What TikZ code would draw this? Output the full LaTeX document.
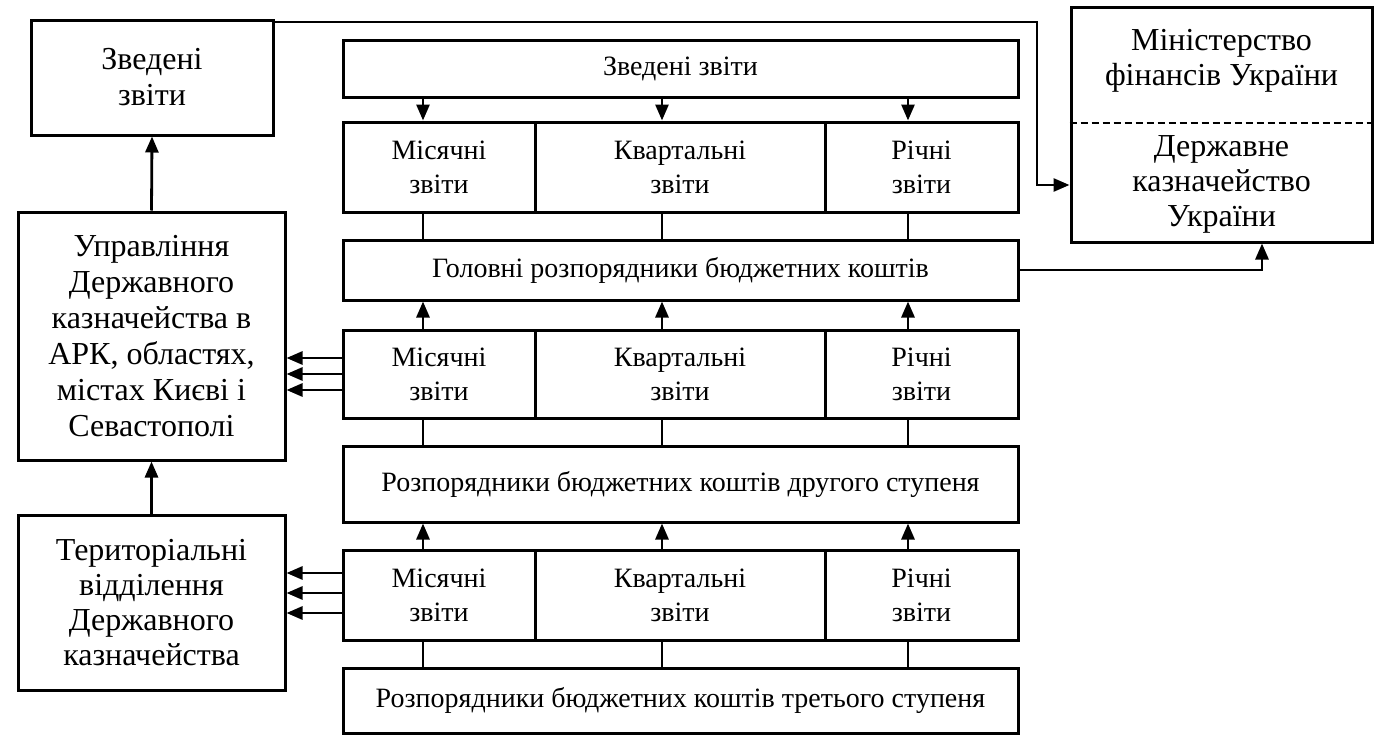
\documentclass[tikz,border=0pt]{standalone}
\usepackage{fontspec}
\setmainfont{Liberation Serif}
\usetikzlibrary{arrows.meta}
\tikzset{
  box/.style={draw, line width=3pt, inner sep=0pt, align=center,
    font=\fontsize{28}{34}\selectfont},
  bigtext/.style={font=\fontsize{32}{36}\selectfont},
  conn/.style={line width=2.8pt},
  arr/.style={line width=2.8pt, -{Triangle[length=16pt,width=13pt]}},
}
\begin{document}
\begin{tikzpicture}[x=1pt,y=-1pt]
\useasboundingbox (0,0) rectangle (1387,744);
% left column
\node[box, bigtext, minimum width=242pt, minimum height=115pt] (A) at (152,77.5) {Зведені\\звіти};
\node[box, bigtext, minimum width=267pt, minimum height=248pt] (B) at (151.5,336) {Управління\\Державного\\казначейства в\\АРК, областях,\\містах Києві і\\Севастополі};
\node[box, font=\fontsize{32}{35}\selectfont, minimum width=267pt, minimum height=175pt] (C) at (151.5,602.5) {Територіальні\\відділення\\Державного\\казначейства};
% right box
\node[box, minimum width=301pt, minimum height=235pt] (R) at (1221.5,124.5) {};
\node[align=center, font=\fontsize{32}{35}\selectfont] (Rt) at (1221.5,61) {Міністерство\\фінансів України};
\node[align=center, font=\fontsize{32}{35}\selectfont] (Rb) at (1221.5,184) {Державне\\казначейство\\України};
\coordinate (dl) at (0,123);
\draw[line width=2pt, dash pattern=on 7pt off 4pt] (R.west |- dl) -- (R.east |- dl);
% central column
\node[box, minimum width=675pt, minimum height=57pt] (r1) at (680.5,68.5) {Зведені звіти};
\node[box, minimum width=192pt, minimum height=90pt] (m2) at (439,167) {Місячні\\звіти};
\node[box, minimum width=290pt, minimum height=90pt] (q2) at (680,167) {Квартальні\\звіти};
\node[box, minimum width=193pt, minimum height=90pt] (a2) at (921.5,167) {Річні\\звіти};
\node[box, minimum width=675pt, minimum height=60pt] (r3) at (680.5,270) {Головні розпорядники бюджетних коштів};
\node[box, minimum width=192pt, minimum height=88pt] (m4) at (439,374) {Місячні\\звіти};
\node[box, minimum width=290pt, minimum height=88pt] (q4) at (680,374) {Квартальні\\звіти};
\node[box, minimum width=193pt, minimum height=88pt] (a4) at (921.5,374) {Річні\\звіти};
\node[box, minimum width=675pt, minimum height=76pt] (r5) at (680.5,484) {Розпорядники бюджетних коштів другого ступеня};
\node[box, minimum width=192pt, minimum height=90pt] (m6) at (439,595) {Місячні\\звіти};
\node[box, minimum width=290pt, minimum height=90pt] (q6) at (680,595) {Квартальні\\звіти};
\node[box, minimum width=193pt, minimum height=90pt] (a6) at (921.5,595) {Річні\\звіти};
\node[box, minimum width=675pt, minimum height=65pt] (r7) at (680.5,700.5) {Розпорядники бюджетних коштів третього ступеня};
% column x positions
\coordinate (c1) at (423,0);
\coordinate (c2) at (662,0);
\coordinate (c3) at (908,0);
% vertical connectors
\foreach \c/\u in {c1/m2,c2/q2,c3/a2}{
  \draw[arr] (r1.south -| \c) -- (\u.north -| \c);
  \draw[conn] (\u.south -| \c) -- (r3.north -| \c);
}
\foreach \c/\u in {c1/m4,c2/q4,c3/a4}{
  \draw[arr] (\u.north -| \c) -- (r3.south -| \c);
  \draw[conn] (r5.north -| \c) -- (\u.south -| \c);
}
\foreach \c/\u in {c1/m6,c2/q6,c3/a6}{
  \draw[arr] (\u.north -| \c) -- (r5.south -| \c);
  \draw[conn] (r7.north -| \c) -- (\u.south -| \c);
}
% left column arrows
\draw[arr] (B.north) -- (A.south);
\draw[arr] (C.north) -- (B.south);
\foreach \yy in {358,374,390}{
  \coordinate (h) at (0,\yy);
  \draw[arr] (m4.west |- h) -- (B.east |- h);
}
\foreach \yy in {573,593,613}{
  \coordinate (h) at (0,\yy);
  \draw[arr] (m6.west |- h) -- (C.east |- h);
}
% top line to treasury
\coordinate (t0) at (0,22);
\coordinate (t1) at (1037,22);
\coordinate (t2) at (1037,185);
\draw[arr] (A.east |- t0) -- (t1) -- (t2) -- (R.west |- t2);
% row 3 to treasury
\coordinate (s1) at (1262,270);
\draw[arr] (r3.east) -- (s1) -- (R.south -| s1);
\end{tikzpicture}
\end{document}
